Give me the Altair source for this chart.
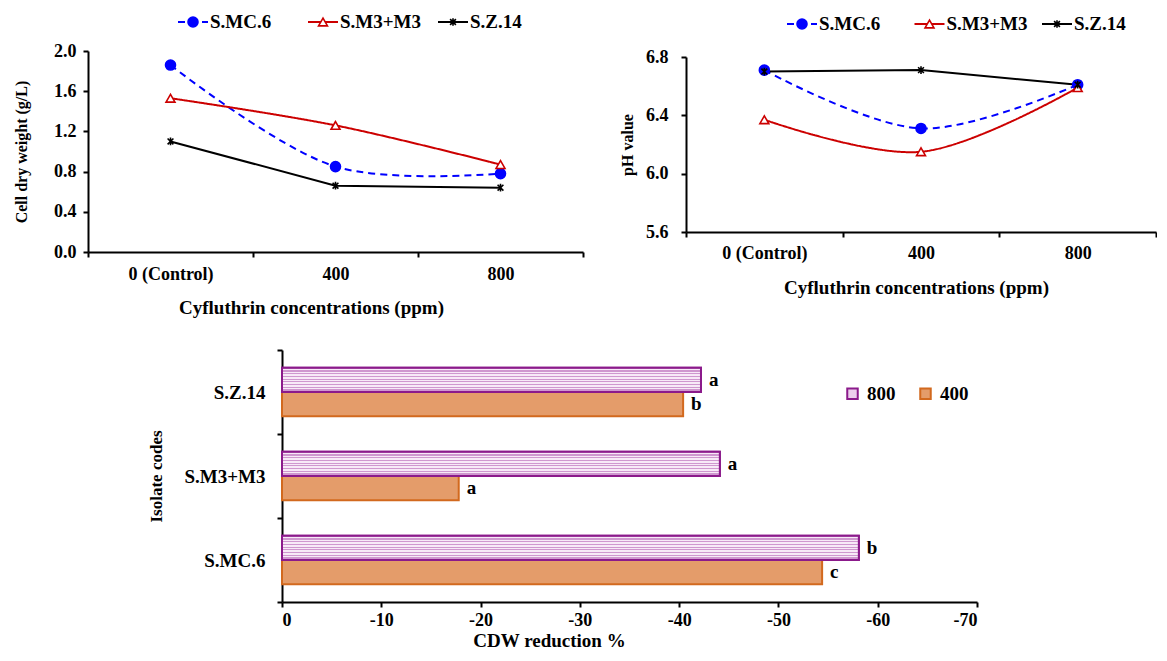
import altair as alt
import pandas as pd

# ---------------- data ----------------
series = ["S.MC.6", "S.M3+M3", "S.Z.14"]
concs = ["0 (Control)", "400", "800"]

cdw_smc6 = [1.86, 0.85, 0.78]
cdw_sm3 = [1.53, 1.26, 0.87]
cdw_sz14 = [1.10, 0.66, 0.64]

ph_smc6 = [6.71, 6.31, 6.61]
ph_sm3 = [6.37, 6.15, 6.59]
ph_sz14 = [6.70, 6.71, 6.61]

isolates = ["S.Z.14", "S.M3+M3", "S.MC.6"]
bar_groups = ["800", "400"]
red_800 = [-42.2, -44.1, -58.1]
red_400 = [-40.4, -17.8, -54.4]
let_800 = ["a", "a", "b"]
let_400 = ["b", "a", "c"]

# ---------------- style ----------------
FONT = "Liberation Serif"
BLUE, RED, BLACK = "#0000FF", "#CC0000", "#000000"
AST = "M-0.75,-0.75L0.75,0.75M-0.75,0.75L0.75,-0.75M0,-1L0,1"


def long_df(vals):
    rows = []
    for s, v in zip(series, vals):
        for c, y in zip(concs, v):
            rows.append({"series": s, "conc": c, "value": y})
    return pd.DataFrame(rows)


cdw_df = long_df([cdw_smc6, cdw_sm3, cdw_sz14])
ph_df = long_df([ph_smc6, ph_sm3, ph_sz14])
leg_df = pd.DataFrame({"series": series})

color_sc = alt.Scale(domain=series, range=[BLUE, RED, BLACK])
dash_sc = alt.Scale(domain=series, range=[[7, 5], [1, 0], [1, 0]])
shape_sc = alt.Scale(domain=series, range=["circle", "triangle-up", AST])
fill_sc = alt.Scale(domain=series, range=[BLUE, "#FFFFFF", BLACK])
size_sc = alt.Scale(domain=series, range=[100, 60, 60])


def line_panel(df, y_title, y_domain, y_ticks, w, h, y_range, leg_y, leg_range,
               title_x, y_lpad, y_tpad, x_lpad, x_tpad):
    x_enc = alt.X(
        "conc:N", sort=concs,
        scale=alt.Scale(domain=concs, paddingInner=0, paddingOuter=0),
        axis=alt.Axis(title="Cyfluthrin concentrations (ppm)", labelAngle=0,
                      tickBand="extent", labelPadding=x_lpad, titlePadding=x_tpad,
                      titleX=title_x, labelFontSize=18, titleFontSize=19))
    y_enc = alt.Y(
        "value:Q",
        scale=alt.Scale(domain=y_domain, nice=False, zero=False, range=y_range),
        axis=alt.Axis(values=y_ticks, format=".1f", title=y_title,
                      labelPadding=y_lpad, titlePadding=y_tpad,
                      labelFontSize=18, titleFontSize=16))
    color = alt.Color("series:N", scale=color_sc, legend=None)
    dash = alt.StrokeDash("series:N", scale=dash_sc, legend=None)
    base = alt.Chart(df)
    smooth = base.transform_filter(
        alt.FieldOneOfPredicate(field="series", oneOf=series[:2])
    ).mark_line(interpolate="catmull-rom", strokeWidth=2).encode(
        x=x_enc, y=y_enc, color=color, strokeDash=dash)
    straight = base.transform_filter(
        alt.FieldEqualPredicate(field="series", equal=series[2])
    ).mark_line(strokeWidth=2).encode(x=x_enc, y=y_enc, color=color)
    pts = base.mark_point(filled=True, opacity=1, strokeWidth=1.6).encode(
        x=x_enc, y=y_enc,
        shape=alt.Shape("series:N", scale=shape_sc, legend=None),
        fill=alt.Fill("series:N", scale=fill_sc, legend=None),
        stroke=alt.Stroke("series:N", scale=color_sc, legend=None),
        size=alt.Size("series:N", scale=size_sc, legend=None))
    main = alt.layer(smooth, straight, pts)

    lx = alt.X("series:N",
               scale=alt.Scale(type="point", domain=series, range=leg_range, padding=0),
               axis=None)
    lb = alt.Chart(leg_df)
    leg_line = lb.mark_point(shape="M-1,0L1,0", size=900, strokeWidth=2,
                             opacity=1, filled=False).encode(
        x=lx, y=alt.value(leg_y),
        stroke=alt.Stroke("series:N", scale=color_sc, legend=None),
        strokeDash=dash)
    leg_mark = lb.mark_point(filled=True, opacity=1, strokeWidth=1.6).encode(
        x=lx, y=alt.value(leg_y),
        shape=alt.Shape("series:N", scale=shape_sc, legend=None),
        fill=alt.Fill("series:N", scale=fill_sc, legend=None),
        stroke=alt.Stroke("series:N", scale=color_sc, legend=None),
        size=alt.Size("series:N", scale=size_sc, legend=None))
    leg_text = lb.mark_text(align="left", baseline="middle", dx=17, fontSize=19,
                            fontWeight="bold", font=FONT, color=BLACK).encode(
        x=lx, y=alt.value(leg_y), text="series:N")
    legend = alt.layer(leg_line, leg_mark, leg_text)
    return alt.layer(main, legend).resolve_scale(x="independent").properties(width=w, height=h)


tl = line_panel(cdw_df, "Cell dry weight (g/L)", [0, 2.0], [0, 0.4, 0.8, 1.2, 1.6, 2.0],
                495, 201, [201, 0], -29, [105, 365], 223, 7, 24, 8, 15)
tr = line_panel(ph_df, "pH value", [5.6, 6.8], [5.6, 6.0, 6.4, 6.8],
                470, 181, [181, 6], -27, [116, 371], 230, 13, 10, 7, 16)

# ---------------- bar panel ----------------
bar_rows = []
for i, iso in enumerate(isolates):
    bar_rows.append({"isolate": iso, "conc": "800", "value": red_800[i], "letter": let_800[i]})
    bar_rows.append({"isolate": iso, "conc": "400", "value": red_400[i], "letter": let_400[i]})
bar_df = pd.DataFrame(bar_rows)

bx = alt.X("value:Q", scale=alt.Scale(domain=[0, -70], nice=False, zero=False),
           axis=alt.Axis(values=list(range(-70, 1, 10)),
                         labelExpr="datum.value == 0 ? '0' : '-' + abs(datum.value)",
                         title="CDW reduction %", titleX=267, labelPadding=4, titlePadding=2,
                         labelFontSize=18, titleFontSize=19))
by = alt.Y("isolate:N", sort=isolates,
           scale=alt.Scale(domain=isolates, paddingInner=0, paddingOuter=0),
           axis=alt.Axis(title="Isolate codes", tickBand="extent", labelPadding=12,
                         titlePadding=18, labelFontSize=19, titleFontSize=17))
byo = alt.YOffset("conc:N", scale=alt.Scale(domain=bar_groups, paddingInner=0, paddingOuter=0.735))

leg = alt.Legend(title=None, orient="none", legendX=755, legendY=34, direction="horizontal",
                 symbolType="square", symbolSize=110, symbolStrokeWidth=2,
                 columnPadding=20, labelFontSize=19, labelOffset=5,
                 labelFont=FONT, labelFontWeight="bold", labelColor=BLACK)
bfill = alt.Fill("conc:N", scale=alt.Scale(domain=bar_groups, range=["#EDCFED", "#E49C6A"]), legend=leg)
bstroke = alt.Stroke("conc:N", scale=alt.Scale(domain=bar_groups, range=["#8B1A8B", "#D2691E"]), legend=leg)

stops = []
n = 9
for k in range(n):
    a = k / n
    b = (k + 0.45) / n
    stops += [{"offset": a, "color": "#CF97CF"}, {"offset": b, "color": "#CF97CF"},
              {"offset": b, "color": "#F7E9F7"}, {"offset": (k + 1) / n, "color": "#F7E9F7"}]
stripe = {"gradient": "linear", "x1": 0, "y1": 0, "x2": 0, "y2": 1, "stops": stops}

bb = alt.Chart(bar_df)
bars = bb.mark_bar(strokeWidth=2).encode(x=bx, y=by, yOffset=byo, fill=bfill, stroke=bstroke)
stripes = bb.transform_filter(alt.FieldEqualPredicate(field="conc", equal="800")).mark_bar(
    fill=stripe, stroke="#8B1A8B", strokeWidth=2).encode(x=bx, y=by, yOffset=byo)
letters = bb.mark_text(align="left", baseline="middle", dx=8, fontSize=19, fontWeight="bold",
                       font=FONT, color=BLACK).encode(x=bx, y=by, yOffset=byo, text="letter:N")
bottom = alt.layer(bars, stripes, letters).properties(width=695, height=252)

spacer = alt.Chart(pd.DataFrame({"v": [0]})).mark_rule(opacity=0).encode(
    x=alt.value(0), x2=alt.value(1), y=alt.value(0)).properties(width=59, height=1)

chart = alt.vconcat(
    alt.hconcat(tl, tr, spacing=35),
    alt.hconcat(spacer, bottom, spacing=0),
    spacing=24,
).resolve_scale(
    color="independent", fill="independent", stroke="independent", shape="independent",
    size="independent", strokeDash="independent"
).properties(
    padding={"left": 5, "top": 5, "right": 0, "bottom": 0}
).configure_view(stroke=None).configure_axis(
    domainColor=BLACK, domainWidth=2, tickColor=BLACK, tickWidth=2, tickSize=5,
    labelFont=FONT, labelFontSize=17, labelFontWeight="bold", labelColor=BLACK,
    titleFont=FONT, titleFontSize=17, titleFontWeight="bold", titleColor=BLACK, grid=False
).configure_legend(
    labelFont=FONT, labelFontWeight="bold", labelColor=BLACK
)

chart.save("out.html", embed_options={"renderer": "svg", "actions": False})
